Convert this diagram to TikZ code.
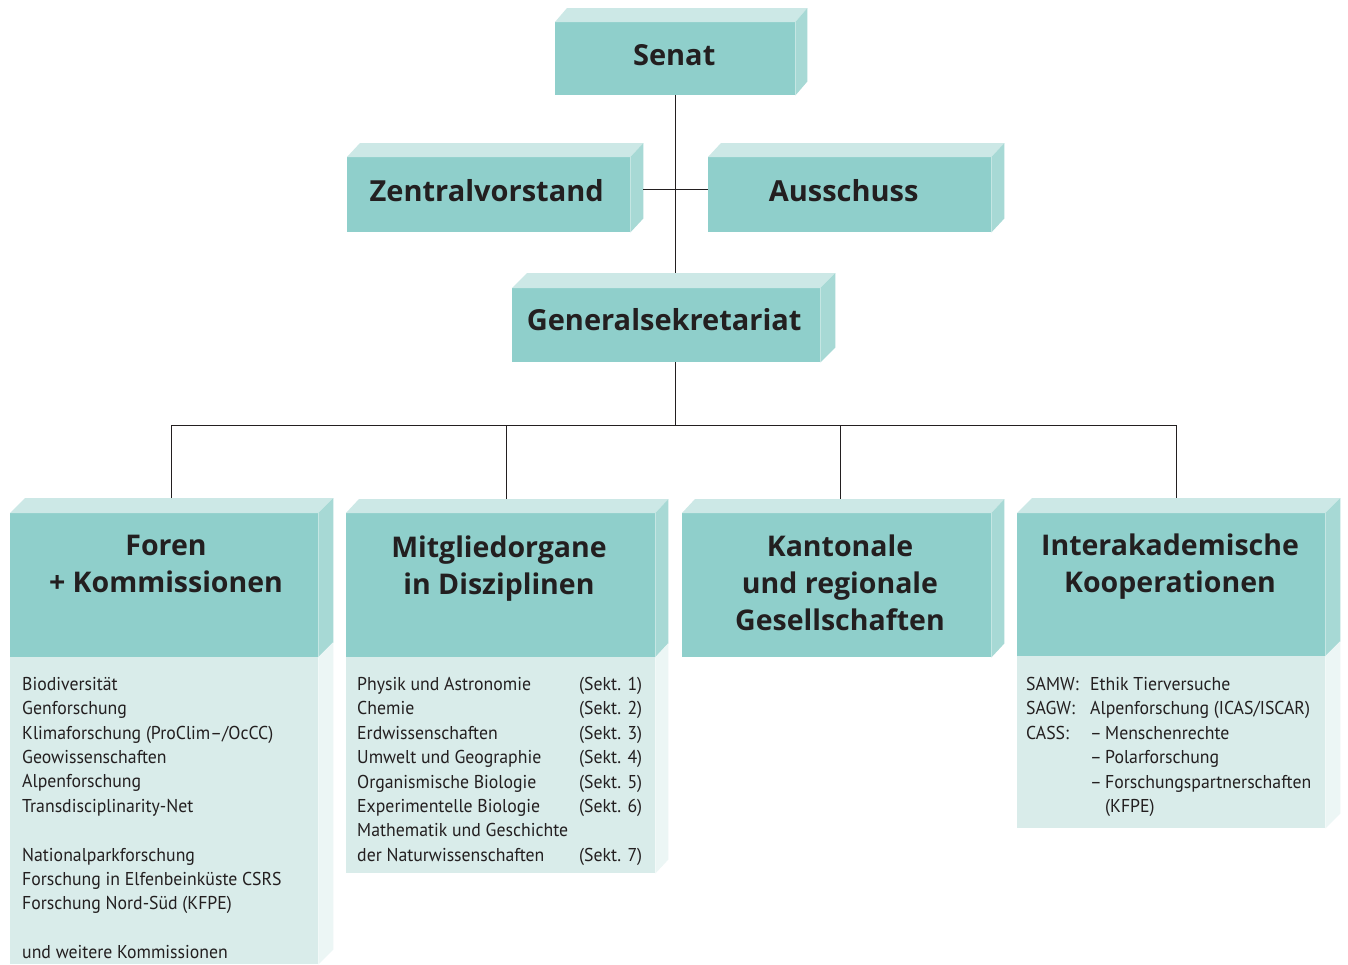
\documentclass[tikz,border=0pt]{standalone}
\usepackage{fontspec}
\setmainfont{Open Sans}
\newfontfamily\titlefont{Open Sans}
\newfontfamily\bodyfont{PT Sans}[FakeStretch=0.955]
\usetikzlibrary{calc}
\definecolor{frontc}{HTML}{8FCFCB}
\definecolor{topc}{HTML}{CCE8E6}
\definecolor{sidec}{HTML}{A7D9D5}
\definecolor{lowc}{HTML}{D9ECEA}
\definecolor{lowside}{HTML}{ECF6F5}
\definecolor{inkc}{HTML}{231F20}
\newcommand\cubefaces[3]{%
  \fill[topc] (#1.north west) -- ++(#2,-#3) -- ($(#1.north east)+(#2,-#3)$) -- (#1.north east) -- cycle;
  \fill[sidec] (#1.north east) -- ++(#2,-#3) -- ($(#1.south east)+(#2,-#3)$) -- (#1.south east) -- cycle;}
\newcommand\lowfaces[3]{%
  \fill[lowside] (#1.north east) -- ++(#2,-#3) -- ($(#1.south east)+(#2,-#3)$) -- (#1.south east) -- cycle;}
\tikzset{
  face/.style={fill=frontc, inner sep=0pt, anchor=north west},
  lowface/.style={fill=lowc, inner sep=0pt, anchor=north west},
  bigtitle/.style={font=\titlefont\bfseries\fontsize{29}{37}\selectfont, text=inkc, align=center, inner sep=0pt},
  boxtitle/.style={font=\titlefont\bfseries\fontsize{28.5}{37}\selectfont, text=inkc, align=center, inner sep=0pt, anchor=north},
  bodytext/.style={font=\bodyfont\fontsize{18.6}{24.4}\selectfont, text=inkc, align=left, inner sep=0pt, anchor=north west},
  conn/.style={draw=inkc, line width=1.2pt}
}
\begin{document}
\begin{tikzpicture}[x=1pt,y=-1pt]
\useasboundingbox[fill=white] (0,0) rectangle (1348,964);
% top boxes
\node[face, minimum width=240pt, minimum height=73pt] (senat) at (555,22) {};
\cubefaces{senat}{12}{14}
\node[bigtitle] (senatT) at ($(senat)+(-1,-4)$) {Senat};
\node[face, minimum width=283pt, minimum height=75pt] (zentral) at (347,157) {};
\cubefaces{zentral}{13}{14}
\node[bigtitle] (zentralT) at ($(zentral)+(-2,-4)$) {Zentralvorstand};
\node[face, minimum width=283pt, minimum height=75pt] (ausschuss) at (708,157) {};
\cubefaces{ausschuss}{13}{14}
\node[bigtitle] (ausschussT) at ($(ausschuss)+(-6,-4)$) {Ausschuss};
\node[face, minimum width=308pt, minimum height=74pt] (gen) at (512,288) {};
\cubefaces{gen}{15}{15}
\node[bigtitle] (genT) at ($(gen)+(-2,-6)$) {Generalsekretariat};
% bottom boxes
\node[face, minimum width=308pt, minimum height=144pt] (foren) at (10,513) {};
\cubefaces{foren}{15}{15}
\node[lowface, minimum width=308pt, minimum height=307pt] (forenL) at (10,657) {};
\lowfaces{forenL}{15}{15}
\node[face, minimum width=309pt, minimum height=144pt] (mitglied) at (346,513) {};
\cubefaces{mitglied}{13}{14}
\node[lowface, minimum width=309pt, minimum height=216pt] (mitgliedL) at (346,657) {};
\lowfaces{mitgliedL}{13}{14}
\node[face, minimum width=309pt, minimum height=144pt] (kanton) at (682,513) {};
\cubefaces{kanton}{13}{14}
\node[face, minimum width=308pt, minimum height=143pt] (inter) at (1017,513) {};
\cubefaces{inter}{15}{15}
\node[lowface, minimum width=308pt, minimum height=172pt] (interL) at (1017,656) {};
\lowfaces{interL}{15}{15}
% titles
\node[boxtitle] (forenT) at (166,535) {Foren\\+ Kommissionen};
\node[boxtitle] (mitgliedT) at (499,536) {Mitgliedorgane\\in Disziplinen};
\node[boxtitle] (kantonT) at (840,535) {Kantonale\\und regionale\\Gesellschaften};
\node[boxtitle] (interT) at (1170,534) {Interakademische\\Kooperationen};
% body texts
\node[bodytext] (forenB) at (22,677) {Biodiversit\"at\\Genforschung\\Klimaforschung (ProClim–/OcCC)\\Geowissenschaften\\Alpenforschung\\Transdisciplinarity-Net\\\mbox{}\\Nationalparkforschung\\Forschung in Elfenbeink\"uste CSRS\\Forschung Nord-S\"ud (KFPE)\\\mbox{}\\und weitere Kommissionen};
\node[bodytext] (mitgliedB) at (357,677) {%
\makebox[222pt][l]{Physik und Astronomie}(Sekt. 1)\\
\makebox[222pt][l]{Chemie}(Sekt. 2)\\
\makebox[222pt][l]{Erdwissenschaften}(Sekt. 3)\\
\makebox[222pt][l]{Umwelt und Geographie}(Sekt. 4)\\
\makebox[222pt][l]{Organismische Biologie}(Sekt. 5)\\
\makebox[222pt][l]{Experimentelle Biologie}(Sekt. 6)\\
Mathematik und Geschichte\\
\makebox[222pt][l]{der Naturwissenschaften}(Sekt. 7)};
\node[bodytext] (interB) at (1026,677) {%
\makebox[64pt][l]{SAMW:}Ethik Tierversuche\\
\makebox[64pt][l]{SAGW:}Alpenforschung (ICAS/ISCAR)\\
\makebox[64pt][l]{CASS:}\makebox[15pt][l]{–}Menschenrechte\\
\hspace*{64pt}\makebox[15pt][l]{–}Polarforschung\\
\hspace*{64pt}\makebox[15pt][l]{–}Forschungspartnerschaften\\
\hspace*{79pt}(KFPE)};
% connectors
\coordinate (genTop) at ($(senat.south |- gen.north)+(0,-15)$);
\draw[conn] (senat.south) -- (genTop);
\draw[conn] ($(zentral.east)+(13,-5.5)$) -- ($(ausschuss.west)+(0,-5.5)$);
\coordinate (hub) at ($(senat.south |- gen.south)+(0,63)$);
\draw[conn] (senat.south |- gen.south) -- (hub);
\coordinate (fT) at ($(foren.north)+(7,-15)$);
\coordinate (mT) at ($(mitglied.north)+(6,-14)$);
\coordinate (kT) at ($(kanton.north)+(4,-14)$);
\coordinate (iT) at ($(inter.north)+(5,-15)$);
\draw[conn] (fT) |- (hub) -| (iT);
\draw[conn] (mT) |- (hub) -| (kT);
\end{tikzpicture}
\end{document}
